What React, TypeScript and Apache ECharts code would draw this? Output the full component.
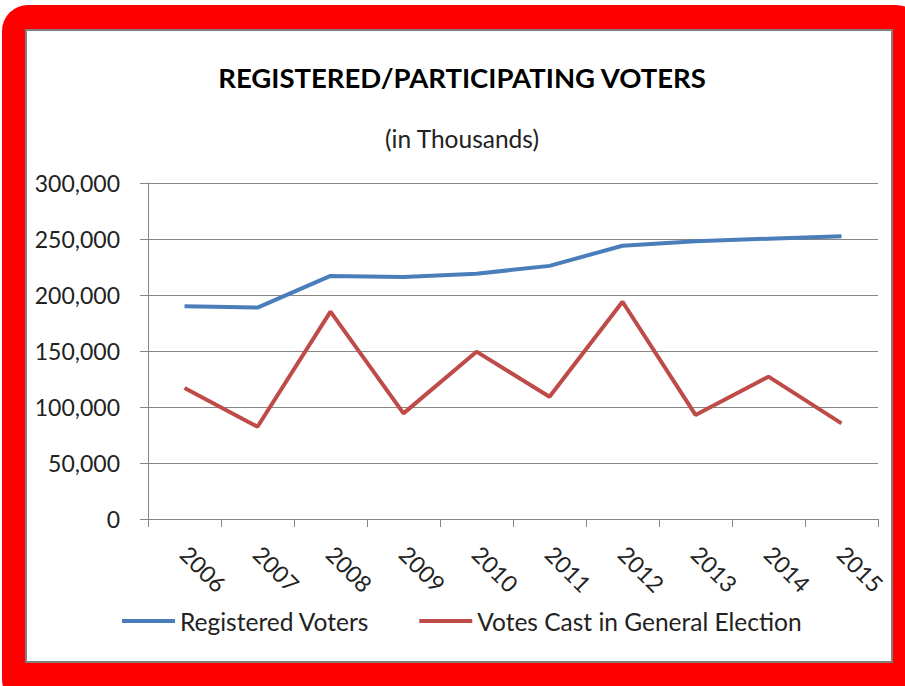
import React, { useEffect, useRef } from "react";
import * as echarts from "echarts";

const years = ["2006", "2007", "2008", "2009", "2010", "2011", "2012", "2013", "2014", "2015"];
const registeredVoters = [190000, 188800, 217000, 216000, 219000, 226000, 244000, 248000, 250300, 252400];
const votesCast = [117000, 82400, 185100, 94300, 149400, 109200, 194000, 92900, 127100, 85400];
const yTicks = { min: 0, max: 300000, interval: 50000 };

const FONT = "Lato, 'Open Sans', sans-serif";

export default function App() {
  const ref = useRef<HTMLDivElement>(null);
  useEffect(() => {
    if (!ref.current) return;
    const chart = echarts.init(ref.current, undefined, { renderer: "svg" });
    chart.setOption({
      animation: false,
      textStyle: { fontFamily: FONT },
      graphic: [
        {
          type: "rect",
          z: -100,
          silent: true,
          shape: { x: 2, y: 5, width: 920, height: 700, r: 26 },
          style: { fill: "#FF0000" },
        },
        {
          type: "rect",
          z: -99,
          silent: true,
          shape: { x: 26, y: 30, width: 866, height: 632 },
          style: { fill: "#FFFFFF", stroke: "#7F7F7F", lineWidth: 2 },
        },
      ],
      title: [
        {
          text: "REGISTERED/PARTICIPATING VOTERS",
          left: 457,
          top: 58,
          textAlign: "center",
          textStyle: { fontFamily: FONT, fontSize: 27.5, fontWeight: "bold", color: "#000" },
        },
        {
          text: "(in Thousands)",
          left: 457,
          top: 121,
          textAlign: "center",
          textStyle: { fontFamily: FONT, fontSize: 24.5, fontWeight: "normal", color: "#222" },
        },
      ],
      legend: {
        top: 601,
        left: 117,
        itemWidth: 53,
        itemHeight: 4,
        itemGap: 50,
        icon: "rect",
        textStyle: { fontFamily: FONT, fontSize: 24.5, lineHeight: 30, color: "#222" },
        data: ["Registered Voters", "Votes Cast in General Election"],
      },
      grid: { left: 148, right: 27, top: 183, bottom: 167, containLabel: false },
      xAxis: {
        type: "category",
        data: years,
        boundaryGap: true,
        axisLine: { lineStyle: { color: "#868686", width: 1 } },
        axisTick: { show: true, length: 8, lineStyle: { color: "#868686" } },
        axisLabel: { rotate: -45, fontSize: 23, color: "#222", margin: 31, fontFamily: FONT },
        splitLine: { show: false },
      },
      yAxis: {
        type: "value",
        min: yTicks.min,
        max: yTicks.max,
        interval: yTicks.interval,
        axisLine: { show: true, lineStyle: { color: "#868686", width: 1 } },
        axisTick: { show: true, length: 8, lineStyle: { color: "#868686" } },
        axisLabel: {
          fontSize: 23,
          color: "#222",
          margin: 28,
          fontFamily: FONT,
          formatter: (v: number) => v.toLocaleString("en-US"),
        },
        splitLine: { show: true, lineStyle: { color: "#868686", width: 1 } },
      },
      series: [
        {
          name: "Registered Voters",
          type: "line",
          data: registeredVoters,
          showSymbol: false,
          symbol: "none",
          lineStyle: { color: "#4A7EBB", width: 4 },
          itemStyle: { color: "#4A7EBB" },
        },
        {
          name: "Votes Cast in General Election",
          type: "line",
          data: votesCast,
          showSymbol: false,
          symbol: "none",
          lineStyle: { color: "#BE4B48", width: 4 },
          itemStyle: { color: "#BE4B48" },
        },
      ],
    });
    return () => chart.dispose();
  }, []);
  return (
    <div
      ref={ref}
      style={{ position: "absolute", left: 0, top: 0, width: 905, height: 686, background: "#fff" }}
    />
  );
}
